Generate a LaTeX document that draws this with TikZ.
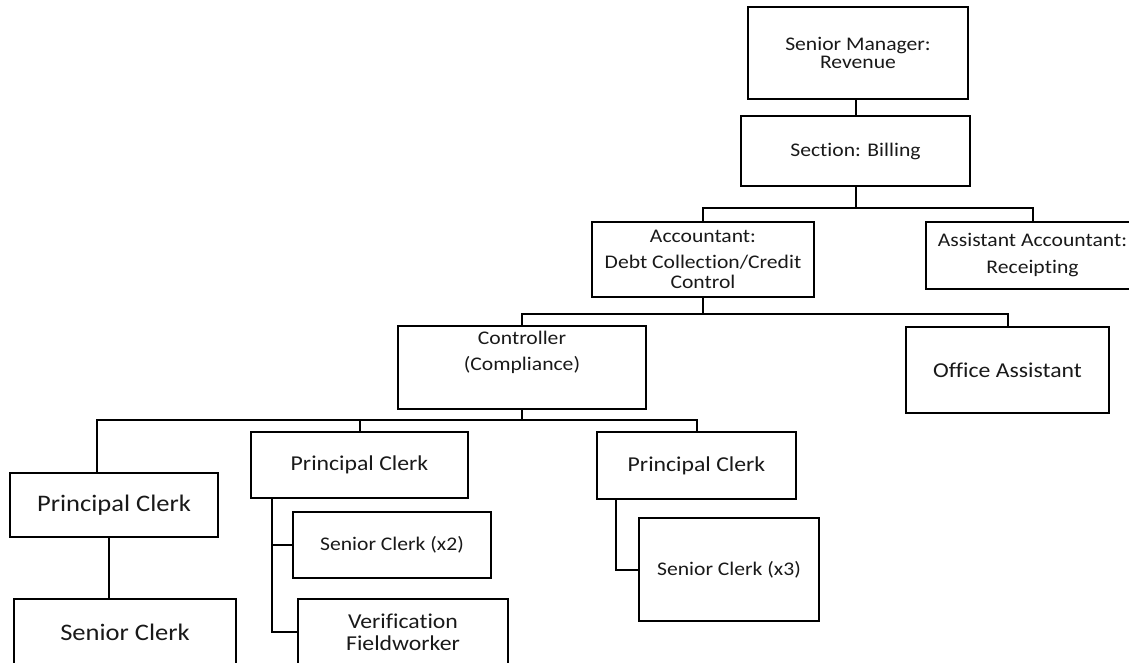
\documentclass[tikz,border=0pt]{standalone}
\usepackage{fontspec}
\setmainfont[FakeStretch=1.12, RawFeature={-liga;-clig;-dlig;-calt}]{Carlito}

\begin{document}
\begin{tikzpicture}[x=1pt,y=-1pt,
  post/.style={draw, line width=2pt, inner sep=0pt, align=center, text=black!90,
    font=\fontsize{19.3}{23}\selectfont},
  postl/.style={post, font=\fontsize{21.2}{25}\selectfont},
  postxl/.style={post, font=\fontsize{23.7}{28}\selectfont},
  link/.style={line width=2pt}]
\useasboundingbox (0,0) rectangle (1129,663);

% top of the section
\node[post, minimum width=220pt, minimum height=92pt] (srmgr) at (858,53) {Senior Manager:\\[-5pt]Revenue};
\node[post, minimum width=229pt, minimum height=70pt] (billing) at (855.5,151) {Section: Billing};
\node[post, minimum width=222pt, minimum height=75pt] (acct) at (703,259.5) {Accountant:\\[3pt]Debt Collec\kern0pt tion/Credit\\[-3pt]Control};
\node[post, minimum width=213pt, minimum height=67pt] (asst) at (1032.5,255) {Assistant Accountant:\\[3.5pt]Receip\kern0pt ting};
\node[post, minimum width=248pt, minimum height=83pt] (ctrl) at (522,367.5) {Controller\\[3pt](Compliance)\\[3pt]\strut};
\node[postl, minimum width=203pt, minimum height=86pt] (office) at (1007.5,370) {Office Assistant};

% clerks
\node[postxl, minimum width=208pt, minimum height=64pt] (pcA) at (114,505) {Principal Clerk};
\node[postxl, minimum width=222pt, minimum height=66pt] (scA) at (125,632) {Senior Clerk};
\node[postl, minimum width=217pt, minimum height=66pt] (pcB) at (359.5,465) {Principal Clerk};
\node[post, minimum width=198pt, minimum height=66pt] (scB) at (392,545) {Senior Clerk (x2)};
\node[postl, minimum width=210pt, minimum height=66pt] (verif) at (403,632) {Verification\\[-3.3pt]Fieldworker};
\node[postl, minimum width=199pt, minimum height=67pt] (pcC) at (696.5,465.5) {Principal Clerk};
\node[post, minimum width=180pt, minimum height=103pt] (scC) at (729,569.5) {Senior Clerk (x3)};

% lines
\draw[link] (billing.north) -- (billing.north |- srmgr.south);
\draw[link] (billing.south) -- ++(0,21) coordinate (j1);
\draw[link] (acct.north) |- (j1) -| (asst.north);
\draw[link] (acct.south) -- ++(0,15.5) coordinate (j2);
\draw[link] (ctrl.north) |- (j2) -| (office.north);
\draw[link] (ctrl.south) -- ++(0,10) coordinate (j3);
\draw[link] ([xshift=-17pt]pcA.north) |- (j3) -| (pcC.north);
\draw[link] (pcB.north) -- (pcB.north |- j3);
\draw[link] ([xshift=-5pt]pcA.south) -- ([xshift=-5pt]pcA.south |- scA.north);
\draw[link] ([xshift=22pt]pcB.south west) coordinate (j4) |- (verif.west);
\draw[link] (scB.west) -- (scB.west -| j4);
\draw[link] ([xshift=20pt]pcC.south west) |- (scC.west);
\end{tikzpicture}
\end{document}
